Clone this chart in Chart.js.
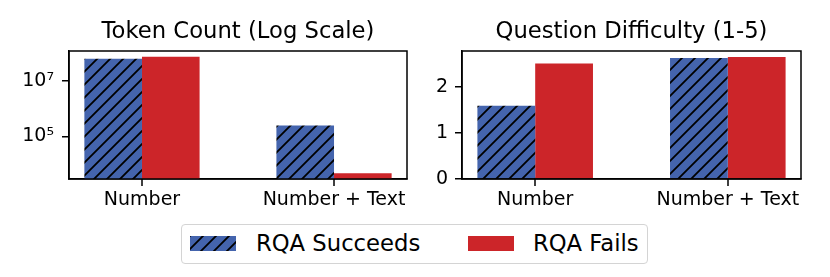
<!DOCTYPE html>
<html><head><meta charset="utf-8">
<script src="https://cdn.jsdelivr.net/npm/chart.js@4"></script>
<style>
html,body{margin:0;padding:0;background:#fff;width:830px;height:277px;overflow:hidden;font-family:"DejaVu Sans",sans-serif;}
#c1{position:absolute;left:0;top:0;}
#c2{position:absolute;left:415px;top:0;}
#legbox{position:absolute;left:181px;top:224px;width:465px;height:38px;border:1.5px solid #d4d4d4;border-radius:4px;background:#fff;}
.sw{position:absolute;top:236px;width:46px;height:15px;}
.lt{position:absolute;top:232px;font-size:22.7px;line-height:22.7px;color:#000;white-space:nowrap;font-family:"DejaVu Sans";}
</style></head>
<body>
<canvas id="c1" width="415" height="222"></canvas>
<canvas id="c2" width="415" height="222"></canvas>
<div id="legbox"></div>
<canvas class="sw" id="sw1" width="46" height="15" style="left:190px"></canvas>
<div class="lt" id="lt1" style="left:256px"></div>
<canvas class="sw" id="sw2" width="46" height="15" style="left:468px"></canvas>
<div class="lt" id="lt2" style="left:533px"></div>
<script>
const categories = ['Number', 'Number + Text'];
const seriesNames = ['RQA Succeeds', 'RQA Fails'];
const tokenSucceeds = [6.1e7, 2.5e5];
const tokenFails = [7.1e7, 4.9e3];
const difficultySucceeds = [1.59, 2.63];
const difficultyFails = [2.51, 2.65];
const tokenTicks = [1e5, 1e7];
const tokenTickLabels = ['10\u2075', '10\u2077'];
const difficultyTicks = [0, 1, 2];
const titles = ['Token Count (Log Scale)', 'Question Difficulty (1-5)'];

const BLUE = '#4464ad', RED = '#cc2529';
const FONT = 'DejaVu Sans';

function hatchCanvas(bg) {
  const s = 13;
  const c = document.createElement('canvas'); c.width = s; c.height = s;
  const g = c.getContext('2d');
  g.fillStyle = bg; g.fillRect(0, 0, s, s);
  g.strokeStyle = '#000'; g.lineWidth = 1.8; g.lineCap = 'square';
  g.beginPath();
  g.moveTo(-2, s + 2); g.lineTo(s + 2, -2);
  g.moveTo(-2, 2); g.lineTo(2, -2);
  g.moveTo(s - 2, s + 2); g.lineTo(s + 2, s - 2);
  g.stroke();
  return c;
}
function hatchPattern(ctx) { return ctx.createPattern(hatchCanvas(BLUE), 'repeat'); }

const boxPlugin = {
  id: 'box',
  afterDraw(chart) {
    const a = chart.chartArea, ctx = chart.ctx, xs = chart.scales.x;
    ctx.save(); ctx.strokeStyle = '#000'; ctx.lineWidth = 1.5;
    ctx.strokeRect(a.left, a.top, a.right - a.left, a.bottom - a.top);
    ctx.restore();
    ctx.save();
    ctx.fillStyle = '#000';
    categories.forEach((c, i) => {
      const px = Math.round(xs.getPixelForValue(i));
      ctx.fillRect(px - 0.75, a.bottom, 1.5, 7);
    });
    ctx.restore();
  }
};

function pts(vals) { return vals.map((v, i) => ({ x: i, y: v })); }

function makeChart(id, title, succ, fail, yCfg, yAxisWidth, padRight, yPad) {
  const el = document.getElementById(id);
  const ctx = el.getContext('2d');
  return new Chart(el, {
    type: 'bar',
    data: {
      datasets: [
        { label: seriesNames[0], data: pts(succ), backgroundColor: hatchPattern(ctx), borderWidth: 0, categoryPercentage: 0.6, barPercentage: 1.0 },
        { label: seriesNames[1], data: pts(fail), backgroundColor: RED, borderWidth: 0, categoryPercentage: 0.6, barPercentage: 1.0 }
      ]
    },
    options: {
      responsive: false, animation: false, devicePixelRatio: 1,
      layout: { padding: { left: 0, right: padRight, top: 0, bottom: 0 } },
      plugins: {
        legend: { display: false }, tooltip: { enabled: false },
        title: { display: true, text: title, fullSize: false, color: '#000',
                 font: { family: FONT, size: 22.7, weight: 'normal', lineHeight: 1.2 },
                 padding: { top: 18.9, bottom: 4.86 } }
      },
      scales: {
        x: {
          type: 'linear', min: -0.38, max: 1.38, offset: false,
          afterBuildTicks: s => { s.ticks = categories.map((c, i) => ({ value: i })); },
          afterFit: s => { s.height = 222 - 179; },
          ticks: { callback: v => categories[v], color: '#000', padding: 3, maxRotation: 0, autoSkip: false,
                   font: { family: FONT, size: 19 } },
          grid: { offset: false, drawOnChartArea: false, drawTicks: true, tickLength: 7, color: 'rgba(0,0,0,0)', lineWidth: 1.5 },
          border: { display: true, color: '#000', width: 1.5 }
        },
        y: Object.assign({
          afterFit: s => { s.width = yAxisWidth; },
          grid: { drawOnChartArea: false, drawTicks: true, tickLength: 7, color: '#000', lineWidth: 1.5 },
          border: { display: true, color: '#000', width: 1.5 }
        }, yCfg(yPad))
      }
    },
    plugins: [boxPlugin]
  });
}

makeChart('c1', titles[0], tokenSucceeds, tokenFails, pad => ({
  type: 'logarithmic', min: 3034, max: 1.146e8,
  afterBuildTicks: s => { s.ticks = tokenTicks.map(v => ({ value: v })); },
  ticks: { callback: v => tokenTickLabels[tokenTicks.indexOf(v)], color: '#000', padding: pad, autoSkip: false,
           font: { family: FONT, size: 19 } }
}), 69, 8, 8);

makeChart('c2', titles[1], difficultySucceeds, difficultyFails, pad => ({
  type: 'linear', min: 0, max: 2.7825,
  afterBuildTicks: s => { s.ticks = difficultyTicks.map(v => ({ value: v })); },
  ticks: { callback: v => String(v), color: '#000', padding: pad, autoSkip: false,
           font: { family: FONT, size: 19 } }
}), 47, 29, 7);

// legend
const s1 = document.getElementById('sw1').getContext('2d');
s1.fillStyle = s1.createPattern(hatchCanvas(BLUE), 'repeat'); s1.fillRect(0, 0, 46, 15);
const s2 = document.getElementById('sw2').getContext('2d');
s2.fillStyle = RED; s2.fillRect(0, 0, 46, 15);
document.getElementById('lt1').textContent = seriesNames[0];
document.getElementById('lt2').textContent = seriesNames[1];
</script>
</body></html>
